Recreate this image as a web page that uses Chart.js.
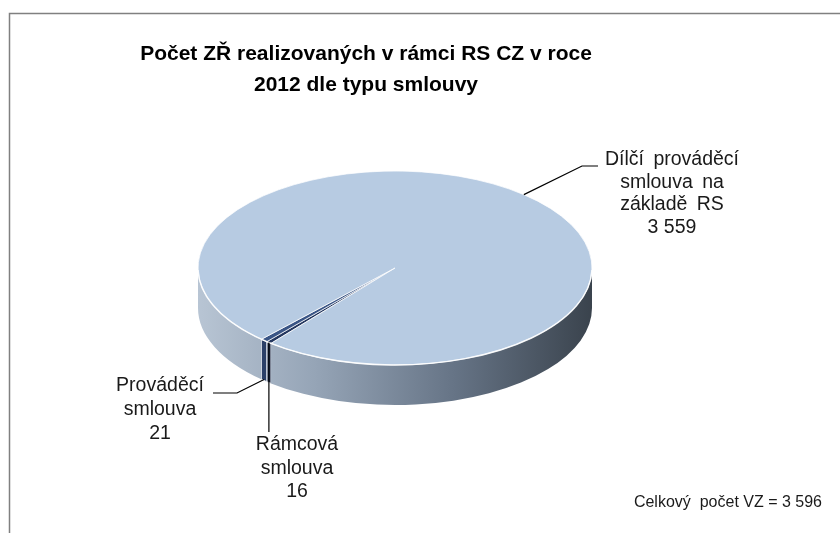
<!DOCTYPE html>
<html>
<head>
<meta charset="utf-8">
<script src="https://cdn.jsdelivr.net/npm/chart.js@4.4.1/dist/chart.umd.min.js"></script>
<style>
  html, body { margin: 0; padding: 0; background: #fff; }
  #wrap { width: 840px; height: 533px; }
</style>
</head>
<body>
<div id="wrap"><canvas id="chart-area" width="840" height="533"></canvas></div>
<script>
// data
var titleLines = ['Počet ZŘ realizovaných v rámci RS CZ v roce', '2012 dle typu smlouvy'];
var categories = ['Rámcová smlouva', 'Prováděcí smlouva', 'Dílčí prováděcí smlouva na základě RS'];
var values = [16, 21, 3559];
var labelLines = [
    ['Rámcová', 'smlouva', '16'],
    ['Prováděcí', 'smlouva', '21'],
    ['Dílčí prováděcí', 'smlouva na', 'základě RS', '3 559']
];
var totalText = 'Celkový  počet VZ = 3 596';

// look of the 3d pie (screen position of the flattened disc)
var disc = { cx: 395, cy: 268, rx: 197, ry: 97, depth: 40 };
var sliceColors = ['#23365e', '#3a5585', '#b7cbe2'];
var sideColors = ['#1c2a48', '#2c4068', null];
var FONT = '"Liberation Sans", Arial, sans-serif';

// where each data label goes and how its leader line bends
var labelSpots = [
    { x: 297, y: 445, lh: 23.5, drop: 0, bend: [[null, 432]] },
    { x: 160, y: 386, lh: 24, drop: 39, bend: [[237, 393], [213, 393]] },
    { x: 672, y: 160, lh: 22.5, drop: 0, bend: [[582, 166], [598, 166]] }
];

function edgePoint(a, down) {
    return { x: disc.cx + disc.rx * Math.cos(a), y: disc.cy + disc.ry * Math.sin(a) + (down || 0) };
}

var pie3d = {
    id: 'pie3d',
    beforeDatasetsDraw: function(chart) {
        var ctx = chart.ctx;
        var arcs = chart.getDatasetMeta(0).data;
        var a0 = arcs[0];
        var TWO = Math.PI * 2;

        // side walls for the front half
        var grad = ctx.createLinearGradient(disc.cx - disc.rx, 0, disc.cx + disc.rx, 0);
        grad.addColorStop(0, '#b8c5d4');
        grad.addColorStop(0.3, '#95a4b6');
        grad.addColorStop(0.65, '#667486');
        grad.addColorStop(1, '#3a434d');
        arcs.forEach(function(arc, i) {
            var s = arc.startAngle, e = arc.endAngle;
            for (var k = Math.floor(s / TWO) - 1; k <= Math.ceil(e / TWO) + 1; k++) {
                var lo = Math.max(s, TWO * k), hi = Math.min(e, TWO * k + Math.PI);
                if (hi <= lo) continue;
                ctx.save();
                ctx.beginPath();
                ctx.ellipse(disc.cx, disc.cy, disc.rx, disc.ry, 0, lo, hi, false);
                ctx.ellipse(disc.cx, disc.cy + disc.depth, disc.rx, disc.ry, 0, hi, lo, true);
                ctx.closePath();
                ctx.fillStyle = sideColors[i] || grad;
                ctx.fill();
                ctx.strokeStyle = 'rgba(255,255,255,0.9)';
                ctx.lineWidth = 1;
                if (sideColors[i]) ctx.stroke();
                ctx.restore();
            }
        });

        // flatten the library's pie onto the disc top
        ctx.save();
        ctx.translate(disc.cx, disc.cy);
        ctx.scale(disc.rx / a0.outerRadius, disc.ry / a0.outerRadius);
        ctx.translate(-a0.x, -a0.y);
    },
    afterDatasetsDraw: function(chart) {
        var ctx = chart.ctx;
        ctx.restore();
        var arcs = chart.getDatasetMeta(0).data;

        // light rim on the front edge
        ctx.save();
        ctx.beginPath();
        ctx.ellipse(disc.cx, disc.cy, disc.rx, disc.ry, 0, 0.02, Math.PI - 0.02, false);
        ctx.strokeStyle = 'rgba(255,255,255,0.85)';
        ctx.lineWidth = 1.5;
        ctx.stroke();
        ctx.restore();

        // frame
        ctx.save();
        ctx.strokeStyle = '#808080';
        ctx.lineWidth = 1.5;
        ctx.beginPath();
        ctx.moveTo(9.5, 533);
        ctx.lineTo(9.5, 13.5);
        ctx.lineTo(840, 13.5);
        ctx.stroke();
        ctx.restore();

        // data labels with leader lines
        ctx.save();
        ctx.font = '19.5px ' + FONT;
        ctx.fillStyle = '#1a1a1a';
        ctx.textAlign = 'center';
        ctx.textBaseline = 'middle';
        arcs.forEach(function(arc, i) {
            var spot = labelSpots[i];
            var mid = (arc.startAngle + arc.endAngle) / 2;
            var p = edgePoint(mid, spot.drop);
            ctx.beginPath();
            ctx.moveTo(p.x, p.y);
            spot.bend.forEach(function(b) {
                ctx.lineTo(b[0] === null ? p.x : b[0], b[1]);
            });
            ctx.strokeStyle = '#000';
            ctx.lineWidth = 1.2;
            ctx.stroke();
            labelLines[i].forEach(function(line, j) {
                ctx.wordSpacing = /^[\d ]+$/.test(line) ? '0px' : '4px';
                ctx.fillText(line, spot.x, spot.y + j * spot.lh);
            });
        });
        ctx.font = '16px ' + FONT;
        ctx.wordSpacing = '0px';
        ctx.textAlign = 'right';
        ctx.fillText(totalText, 822, 503);
        ctx.restore();
    }
};

var config = {
    type: 'pie',
    data: {
        labels: categories,
        datasets: [{
            data: values,
            backgroundColor: sliceColors,
            borderColor: '#ffffff',
            borderWidth: 1
        }]
    },
    options: {
        responsive: false,
        animation: false,
        events: [],
        rotation: 219,
        layout: { padding: { left: 10, right: 118, top: 0, bottom: 20 } },
        plugins: {
            legend: { display: false },
            tooltip: { enabled: false },
            title: {
                display: true,
                text: titleLines,
                color: '#000',
                font: { family: FONT, size: 21, weight: 'bold', lineHeight: 1.5 },
                padding: { top: 38, bottom: 10 }
            }
        }
    },
    plugins: [pie3d]
};

window.onload = function() {
    var ctx = document.getElementById('chart-area').getContext('2d');
    new Chart(ctx, config);
};
</script>
</body>
</html>
